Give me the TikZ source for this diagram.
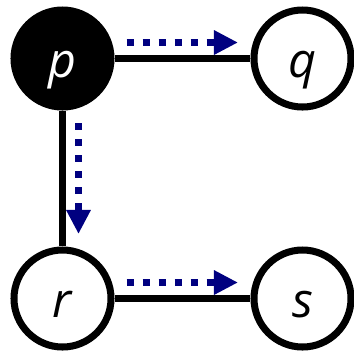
\documentclass[tikz,border=0pt]{standalone}
\usepackage{fontspec}
\setsansfont{Open Sans}
\usetikzlibrary{arrows.meta}
\definecolor{flowblue}{RGB}{0,0,128}

\begin{document}
\begin{tikzpicture}[x=1cm,y=1cm,
    every node/.style={font=\fontsize{27.5}{32}\selectfont\sffamily\itshape},
    proc/.style={draw, circle, line width=4pt, minimum size=1.94cm, inner sep=0pt,
        fill=white, text height=0.74cm, text depth=0cm},
    link/.style={line width=4.5pt},
    flow/.style={flowblue, line width=4pt, dash pattern=on 0.14cm off 0.18cm,
        -{Triangle[length=0.48cm, width=0.46cm]}}]
    \useasboundingbox (-1.25,1.17) rectangle (5.83,-5.83);
    \node[proc, fill=black, text=white] (p) at (0,0) {p};
    \node[proc] (q) at (4.8,0) {q};
    \node[proc] (r) at (0,-4.8) {r};
    \node[proc] (s) at (4.8,-4.8) {s};
    \draw[link] (p) -- (q);
    \draw[link] (p) -- (r);
    \draw[link] (r) -- (s);
    % messages sent along the links
    \draw[flow, shorten <=0.24cm, shorten >=0.25cm] ([yshift=0.32cm]p.east) -- ([yshift=0.32cm]q.west);
    \draw[flow, shorten <=0.25cm, shorten >=0.25cm] ([xshift=0.32cm]p.south) -- ([xshift=0.32cm]r.north);
    \draw[flow, shorten <=0.24cm, shorten >=0.25cm] ([yshift=0.32cm]r.east) -- ([yshift=0.32cm]s.west);
\end{tikzpicture}
\end{document}
